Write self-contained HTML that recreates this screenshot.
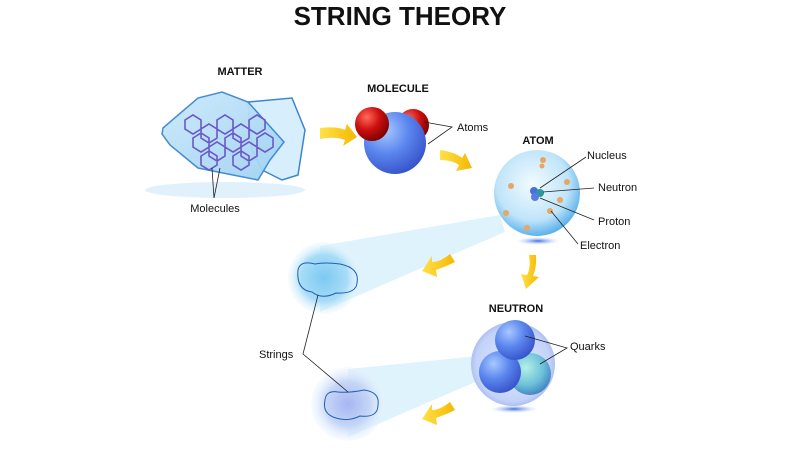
<!DOCTYPE html>
<html><head><meta charset="utf-8"><style>
html,body{margin:0;padding:0;background:#fff}
svg{display:block}
text{font-family:"Liberation Sans",sans-serif;fill:#111}
.b{font-weight:bold;font-size:11px}
.l{font-size:11px}
</style></head><body>
<svg width="800" height="450" viewBox="0 0 800 450" xmlns="http://www.w3.org/2000/svg">
<defs>
<radialGradient id="blue" cx="35%" cy="30%" r="75%"><stop offset="0" stop-color="#a8c8ff"/><stop offset="0.5" stop-color="#5b86ee"/><stop offset="1" stop-color="#3552c8"/></radialGradient>
<radialGradient id="red" cx="35%" cy="30%" r="75%"><stop offset="0" stop-color="#ff6a5a"/><stop offset="0.5" stop-color="#cc1010"/><stop offset="1" stop-color="#7a0000"/></radialGradient>
<radialGradient id="atom" cx="45%" cy="40%" r="60%"><stop offset="0" stop-color="#f2fbff"/><stop offset="0.7" stop-color="#bfe4fa"/><stop offset="1" stop-color="#5db2ea"/></radialGradient>
<radialGradient id="neu" cx="50%" cy="50%" r="55%"><stop offset="0" stop-color="#e4ecff"/><stop offset="0.8" stop-color="#c3d2f8"/><stop offset="1" stop-color="#9db2ee"/></radialGradient>
<radialGradient id="green" cx="40%" cy="35%" r="70%"><stop offset="0" stop-color="#b5f0e8"/><stop offset="0.6" stop-color="#6cc0d8"/><stop offset="1" stop-color="#3d7fc0"/></radialGradient>
<radialGradient id="glow1" cx="50%" cy="50%" r="50%"><stop offset="0" stop-color="#7cc9f2"/><stop offset="0.65" stop-color="#a8dcf7"/><stop offset="1" stop-color="#e8f6fe" stop-opacity="0.3"/></radialGradient>
<radialGradient id="glow2" cx="50%" cy="50%" r="50%"><stop offset="0" stop-color="#a6b6f2"/><stop offset="0.6" stop-color="#c6d6f6"/><stop offset="1" stop-color="#e8f4fe" stop-opacity="0.3"/></radialGradient>
<radialGradient id="shad" cx="50%" cy="50%" r="50%"><stop offset="0" stop-color="#3a6ee8"/><stop offset="1" stop-color="#c7d8fb" stop-opacity="0"/></radialGradient>
<linearGradient id="arr" x1="0" x2="1"><stop offset="0" stop-color="#ffe14a"/><stop offset="1" stop-color="#f5b800"/></linearGradient>
<linearGradient id="ice" x1="0" y1="0" x2="1" y2="1"><stop offset="0" stop-color="#cbe9fb"/><stop offset="1" stop-color="#9fd2f3"/></linearGradient>
</defs>

<text x="400" y="25" text-anchor="middle" style="font-weight:bold;font-size:26px">STRING THEORY</text>

<!-- matter -->
<text class="b" x="240" y="75" text-anchor="middle">MATTER</text>
<ellipse cx="225" cy="190" rx="80" ry="8" fill="#e0f1fc"/>
<path d="M248,102 L292,98 L305,130 L298,175 L282,180 L262,170 L252,150 Z" fill="#d7effc" stroke="#3a86d0" stroke-width="1.5"/>
<path d="M163,128 L198,98 L222,92 L248,102 L284,142 L270,160 L258,180 L228,174 L198,168 L170,145 L162,134 Z" fill="url(#ice)" stroke="#3a86d0" stroke-width="1.5" opacity="0.95"/>
<g stroke="#6a58c8" stroke-width="1.6" fill="none">
<path d="M185,120 l8,-5 8,5 v9 l-8,5 -8,-5z M201,129 l8,-5 8,5 v9 l-8,5 -8,-5z M217,120 l8,-5 8,5 v9 l-8,5 -8,-5z M233,129 l8,-5 8,5 v9 l-8,5 -8,-5z M249,120 l8,-5 8,5 v9 l-8,5 -8,-5z M193,138 l8,-5 8,5 v9 l-8,5 -8,-5z M209,147 l8,-5 8,5 v9 l-8,5 -8,-5z M225,138 l8,-5 8,5 v9 l-8,5 -8,-5z M241,147 l8,-5 8,5 v9 l-8,5 -8,-5z M257,138 l8,-5 8,5 v9 l-8,5 -8,-5z M201,156 l8,-5 8,5 v9 l-8,5 -8,-5z M233,156 l8,-5 8,5 v9 l-8,5 -8,-5z"/>
</g>
<line x1="212" y1="168" x2="214" y2="198" stroke="#222" stroke-width="0.8"/>
<line x1="220" y1="168" x2="214" y2="198" stroke="#222" stroke-width="0.8"/>
<text class="l" x="215" y="212" text-anchor="middle">Molecules</text>

<!-- arrows -->
<path d="M320,128 Q337,126 345,130 L347,124 L357,137 L343,146 L345,140 Q335,136 320,139 Z" fill="url(#arr)"/>
<path d="M440,150 Q455,152 462,158 L465,153 L472,168 L456,171 L459,165 Q452,160 440,160 Z" fill="url(#arr)"/>

<!-- molecule -->
<text class="b" x="398" y="92" text-anchor="middle">MOLECULE</text>
<circle cx="413" cy="125" r="16" fill="url(#red)"/>
<circle cx="395" cy="143" r="31" fill="url(#blue)"/>
<circle cx="372" cy="124" r="17" fill="url(#red)"/>
<path d="M424,122 L452,127 L428,144" fill="none" stroke="#222" stroke-width="0.8"/>
<text class="l" x="457" y="131">Atoms</text>

<!-- beams -->
<path d="M500,215 L320,246 L320,312 L505,232 Z" fill="#d7f0fc" opacity="0.8"/>
<path d="M478,356 L348,369 L348,437 L480,380 Z" fill="#d7f0fc" opacity="0.8"/>

<!-- atom -->
<text class="b" x="538" y="144" text-anchor="middle">ATOM</text>
<ellipse cx="538" cy="241" rx="22" ry="4" fill="url(#shad)"/>
<circle cx="537" cy="193" r="43" fill="url(#atom)"/>
<g fill="#e7a662"><circle cx="543" cy="160" r="3"/><circle cx="511" cy="186" r="3"/><circle cx="567" cy="182" r="3"/><circle cx="560" cy="200" r="3"/><circle cx="550" cy="211" r="3"/><circle cx="506" cy="213" r="3"/><circle cx="527" cy="228" r="3"/><circle cx="542" cy="166" r="2.5"/></g>
<circle cx="534" cy="191" r="4" fill="#4a6ee0"/><circle cx="540" cy="193" r="4" fill="#2a9a9a"/><circle cx="535" cy="197" r="4" fill="#5a7ae8"/>
<g stroke="#222" stroke-width="0.8" fill="none">
<line x1="540" y1="188" x2="586" y2="157"/><line x1="543" y1="192" x2="594" y2="188"/><line x1="540" y1="198" x2="594" y2="220"/><line x1="551" y1="211" x2="578" y2="244"/>
</g>
<text class="l" x="587" y="159">Nucleus</text>
<text class="l" x="598" y="191">Neutron</text>
<text class="l" x="598" y="225">Proton</text>
<text class="l" x="580" y="249">Electron</text>

<path d="M450,254 Q440,262 432,262 L432,256 L422,271 L437,277 L436,270 Q447,266 455,262 Z" fill="url(#arr)"/>
<path d="M529,255 Q531,268 527,275 L521,274 L526,289 L539,277 L533,276 Q537,266 536,255 Z" fill="url(#arr)"/>
<path d="M450,402 Q440,410 432,410 L432,404 L422,419 L437,425 L436,418 Q447,414 455,410 Z" fill="url(#arr)"/>

<!-- string circles -->
<circle cx="324" cy="278" r="36" fill="url(#glow1)"/>
<path d="M298,270 Q300,260 315,264 Q325,262 340,264 Q360,268 357,283 Q356,294 336,293 Q322,300 312,292 Q296,290 298,270 Z" fill="none" stroke="#2060b0" stroke-width="1"/>
<circle cx="348" cy="404" r="37" fill="url(#glow2)"/>
<path d="M325,400 Q326,390 338,392 Q350,393 364,390 Q380,392 378,405 Q378,418 360,416 Q348,422 336,418 Q322,414 325,400 Z" fill="none" stroke="#2060b0" stroke-width="1"/>
<path d="M318,295 L303,354 L348,392" fill="none" stroke="#222" stroke-width="0.8"/>
<text class="l" x="259" y="358">Strings</text>

<!-- neutron -->
<text class="b" x="516" y="312" text-anchor="middle">NEUTRON</text>
<ellipse cx="514" cy="409" rx="24" ry="4" fill="url(#shad)"/>
<circle cx="513" cy="364" r="42" fill="url(#neu)"/>
<circle cx="530" cy="374" r="21" fill="url(#green)"/>
<circle cx="500" cy="372" r="21" fill="url(#blue)"/>
<circle cx="515" cy="340" r="20" fill="url(#blue)"/>
<path d="M525,336 L567,348 L540,364" fill="none" stroke="#222" stroke-width="0.8"/>
<text class="l" x="570" y="350">Quarks</text>
</svg>
</body></html>
